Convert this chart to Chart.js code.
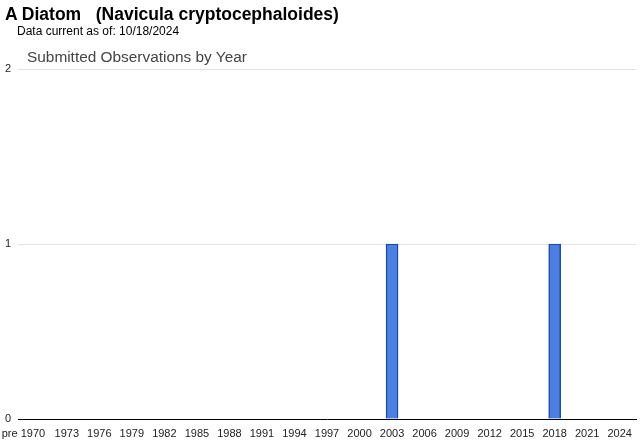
<!DOCTYPE html>
<html>
<head>
<meta charset="utf-8">
<script src="https://cdn.jsdelivr.net/npm/chart.js@4"></script>
<style>
  html, body { margin:0; padding:0; background:#fff; }
  #wrap { position:relative; width:640px; height:442px; font-family:Arial, "Liberation Sans", sans-serif; }
  #t1 { position:absolute; left:5px; top:4px; font-size:17.5px; font-weight:bold; color:#000; white-space:pre; }
  #t2 { position:absolute; left:17px; top:24px; font-size:12px; color:#000; }
  #t3 { position:absolute; left:27px; top:48px; font-size:15.4px; color:#444; }
  canvas { position:absolute; left:0; top:0; }
</style>
</head>
<body>
<div id="wrap">
  <canvas id="obsChart" width="640" height="442"></canvas>
  <div id="t1">A Diatom   (Navicula cryptocephaloides)</div>
  <div id="t2">Data current as of: 10/18/2024</div>
  <div id="t3">Submitted Observations by Year</div>
</div>
<script>
// categories: "pre 1970" then 1970..2025
const years = ['pre 1970'];
for (let y = 1970; y <= 2025; y++) years.push(String(y));

// observations per year (only 2003 and 2018 have one record)
const counts = [
  0,                               // pre 1970
  0,0,0,0,0,0,0,0,0,0,             // 1970-1979
  0,0,0,0,0,0,0,0,0,0,             // 1980-1989
  0,0,0,0,0,0,0,0,0,0,             // 1990-1999
  0,0,0,1,0,0,0,0,0,0,             // 2000-2009
  0,0,0,0,0,0,0,0,1,0,             // 2010-2019
  0,0,0,0,0,0                      // 2020-2025
];

// labels actually printed under the axis
const shownLabels = ['pre 1970','1973','1976','1979','1982','1985','1988','1991','1994','1997',
  '2000','2003','2006','2009','2012','2015','2018','2021','2024'];
const yTicks = [0, 1, 2];

// horizontal shading like the google bars
function barFill(c) {
  if (!c.raw) return 'rgba(0,0,0,0)';
  const el = c.element;
  if (!el || !isFinite(el.x)) return '#4b80e0';
  const g = c.chart.ctx.createLinearGradient(el.x - 6, 0, el.x + 6, 0);
  g.addColorStop(0, '#3e72d6');
  g.addColorStop(0.3, '#6d9cf0');
  g.addColorStop(0.55, '#4f84e4');
  g.addColorStop(1, '#3a6ed3');
  return g;
}

const ctx = document.getElementById('obsChart').getContext('2d');
new Chart(ctx, {
  type: 'bar',
  data: {
    labels: years,
    datasets: [{
      label: 'Observations',
      data: counts,
      backgroundColor: barFill,
      borderColor: '#1a4ab0',
      borderWidth: c => (c.raw ? 1.5 : 0),
      borderSkipped: 'bottom',
      barThickness: 12
    }]
  },
  options: {
    responsive: false,
    animation: false,
    layout: { padding: { top: 69, right: 4, left: 0, bottom: 2 } },
    plugins: { legend: { display: false }, tooltip: { enabled: false }, title: { display: false } },
    scales: {
      x: {
        grid: { display: false },
        border: { color: '#000', width: 1 },
        ticks: {
          autoSkip: false, maxRotation: 0, minRotation: 0, padding: 1,
          color: '#222', font: { family: 'Arial', size: 11, lineHeight: 1 },
          callback: function(v, i) { const l = this.getLabelForValue(v); return shownLabels.includes(l) ? l : ''; }
        }
      },
      y: {
        min: 0, max: 2,
        afterBuildTicks: s => { s.ticks = yTicks.map(v => ({ value: v })); },
        afterFit: s => { s.width = 18; },
        border: { display: false },
        grid: { color: c => (c.tick.value === 0 ? 'rgba(0,0,0,0)' : '#e3e3e3'), drawTicks: false },
        ticks: { color: '#222', font: { family: 'Arial', size: 11 }, padding: 7 }
      }
    }
  }
});
</script>
</body>
</html>
